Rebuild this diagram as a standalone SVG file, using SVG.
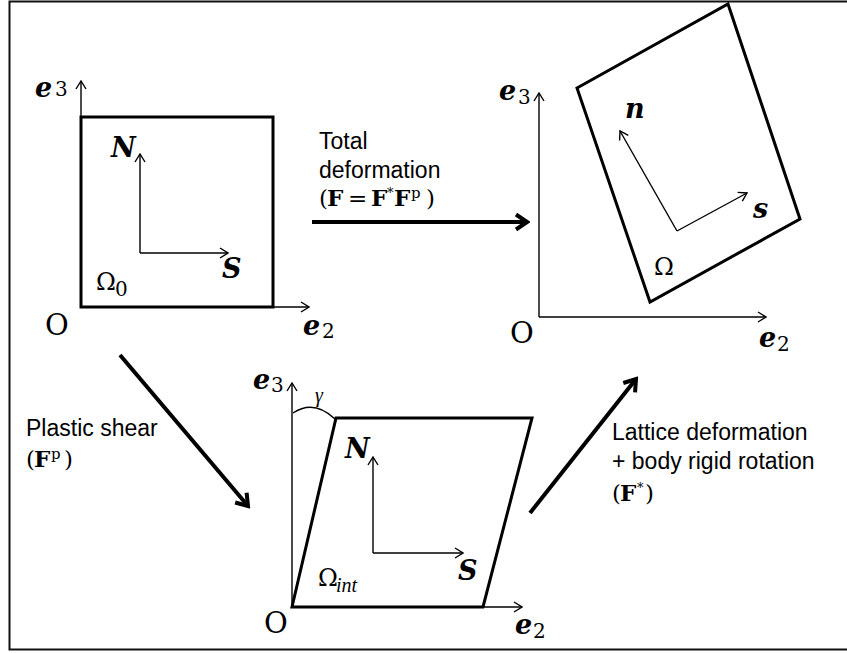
<svg xmlns="http://www.w3.org/2000/svg" width="847" height="653" viewBox="0 0 847 653">
<style>
.bd{fill:none;stroke:#000;stroke-width:3;stroke-linejoin:miter}
.ax{fill:none;stroke:#000;stroke-width:1.4}
.big{fill:none;stroke:#000;stroke-width:4}
.v{font-family:"DejaVu Serif","Liberation Serif",serif;font-weight:bold;font-style:italic;font-size:27px;fill:#000}
.r{font-family:"DejaVu Serif","Liberation Serif",serif;font-size:20px;fill:#000}
.o{font-family:"DejaVu Serif","Liberation Serif",serif;font-size:29px;fill:#000}
.om{font-family:"DejaVu Serif","Liberation Serif",serif;font-size:24px;fill:#000}
.t{font-family:"Liberation Sans",Arial,sans-serif;font-size:23px;fill:#000}
.m{font-family:"DejaVu Serif","Liberation Serif",serif;font-size:23px;fill:#000}
.fb{font-weight:bold}
</style>
<defs>
<marker id="thin" viewBox="0 0 10 12" refX="9" refY="6" markerWidth="10" markerHeight="12" markerUnits="userSpaceOnUse" orient="auto">
<path d="M1,1 L9,6 L1,11" fill="none" stroke="#000" stroke-width="1.4"/>
</marker>
<marker id="thick" viewBox="0 0 16 20" refX="13" refY="10" markerWidth="16" markerHeight="20" markerUnits="userSpaceOnUse" orient="auto">
<path d="M2,2.5 L13,10 L2,17.5" fill="none" stroke="#000" stroke-width="4"/>
</marker>
</defs>
<rect x="9.5" y="1.5" width="845" height="648" fill="#fff" stroke="#111" stroke-width="2"/>

<g id="initial-configuration">
<path class="ax" d="M81,307 V81" marker-end="url(#thin)"/>
<path class="ax" d="M81,307 H309" marker-end="url(#thin)"/>
<rect class="bd" x="81" y="117" width="192" height="190"/>
<path class="ax" d="M140,253 V154" marker-end="url(#thin)"/>
<path class="ax" d="M140,253 H228" marker-end="url(#thin)"/>
<text class="v" x="35" y="97">e</text><text class="r" x="55" y="96">3</text>
<text class="v" x="111" y="157">N</text>
<text class="v" x="222" y="278">S</text>
<text class="om" x="96" y="290">Ω</text><text class="r" x="115" y="296" font-size="16">0</text>
<text class="o" x="45" y="335">O</text>
<text class="v" x="303" y="335">e</text><text class="r" x="322" y="338">2</text>
</g>

<g id="current-configuration">
<path class="ax" d="M539,317 V93" marker-end="url(#thin)"/>
<path class="ax" d="M539,317 H766" marker-end="url(#thin)"/>
<polygon class="bd" points="577,88 728,4 800,219 650,302"/>
<path class="ax" d="M677,231 L620,131" marker-end="url(#thin)"/>
<path class="ax" d="M677,231 L747,193" marker-end="url(#thin)"/>
<text class="v" x="499" y="100">e</text><text class="r" x="518" y="104">3</text>
<text class="v" x="625" y="118">n</text>
<text class="v" x="753" y="218">s</text>
<text class="om" x="654" y="275">Ω</text>
<text class="o" x="510" y="343">O</text>
<text class="v" x="759" y="347">e</text><text class="r" x="777" y="351">2</text>
</g>

<g id="intermediate-configuration">
<path class="ax" d="M292,607 V383" marker-end="url(#thin)"/>
<path class="ax" d="M292,607 H522" marker-end="url(#thin)"/>
<polygon class="bd" points="292,607 336,418 532,418 483,607"/>
<path class="ax" d="M293,413 Q314,399 335,419"/>
<path class="ax" d="M373,553 V457" marker-end="url(#thin)"/>
<path class="ax" d="M373,553 H463" marker-end="url(#thin)"/>
<text class="v" x="253" y="389">e</text><text class="r" x="271" y="392">3</text>
<text x="315" y="402" font-family="Liberation Serif,serif" font-style="italic" font-size="20">γ</text>
<text class="v" x="345" y="458">N</text>
<text class="v" x="458" y="580">S</text>
<text class="om" x="318" y="586">Ω</text><text x="336" y="592" font-family="Liberation Serif,serif" font-style="italic" font-size="20">int</text>
<text class="o" x="264" y="633">O</text>
<text class="v" x="515" y="634">e</text><text class="r" x="533" y="638">2</text>
</g>

<g id="connectors">
<path class="big" d="M312,222 H527" marker-end="url(#thick)"/>
<path class="big" d="M120,355 L248,506" marker-end="url(#thick)"/>
<path class="big" d="M530,513 L636,379" marker-end="url(#thick)"/>
<text class="t" x="319" y="149">Total</text>
<text class="t" x="319" y="178">deformation</text>
<text class="m" y="206"><tspan x="319">(</tspan><tspan x="327" class="fb">F</tspan><tspan x="348">=</tspan><tspan x="371" class="fb">F</tspan><tspan x="387" dy="-9" font-size="13">*</tspan><tspan x="394" dy="9" class="fb">F</tspan><tspan x="411" dy="-8" font-size="15">p</tspan><tspan x="426" dy="8">)</tspan></text>
<text class="t" x="26" y="436">Plastic shear</text>
<text class="m" y="467"><tspan x="26">(</tspan><tspan x="34" class="fb">F</tspan><tspan x="51" dy="-8" font-size="15">p</tspan><tspan x="64" dy="8">)</tspan></text>
<text class="t" x="612" y="440">Lattice deformation</text>
<text class="t" x="612" y="469">+ body rigid rotation</text>
<text class="m" y="501"><tspan x="612">(</tspan><tspan x="620" class="fb">F</tspan><tspan x="637" dy="-9" font-size="13">*</tspan><tspan x="645" dy="9">)</tspan></text>
</g>
</svg>
